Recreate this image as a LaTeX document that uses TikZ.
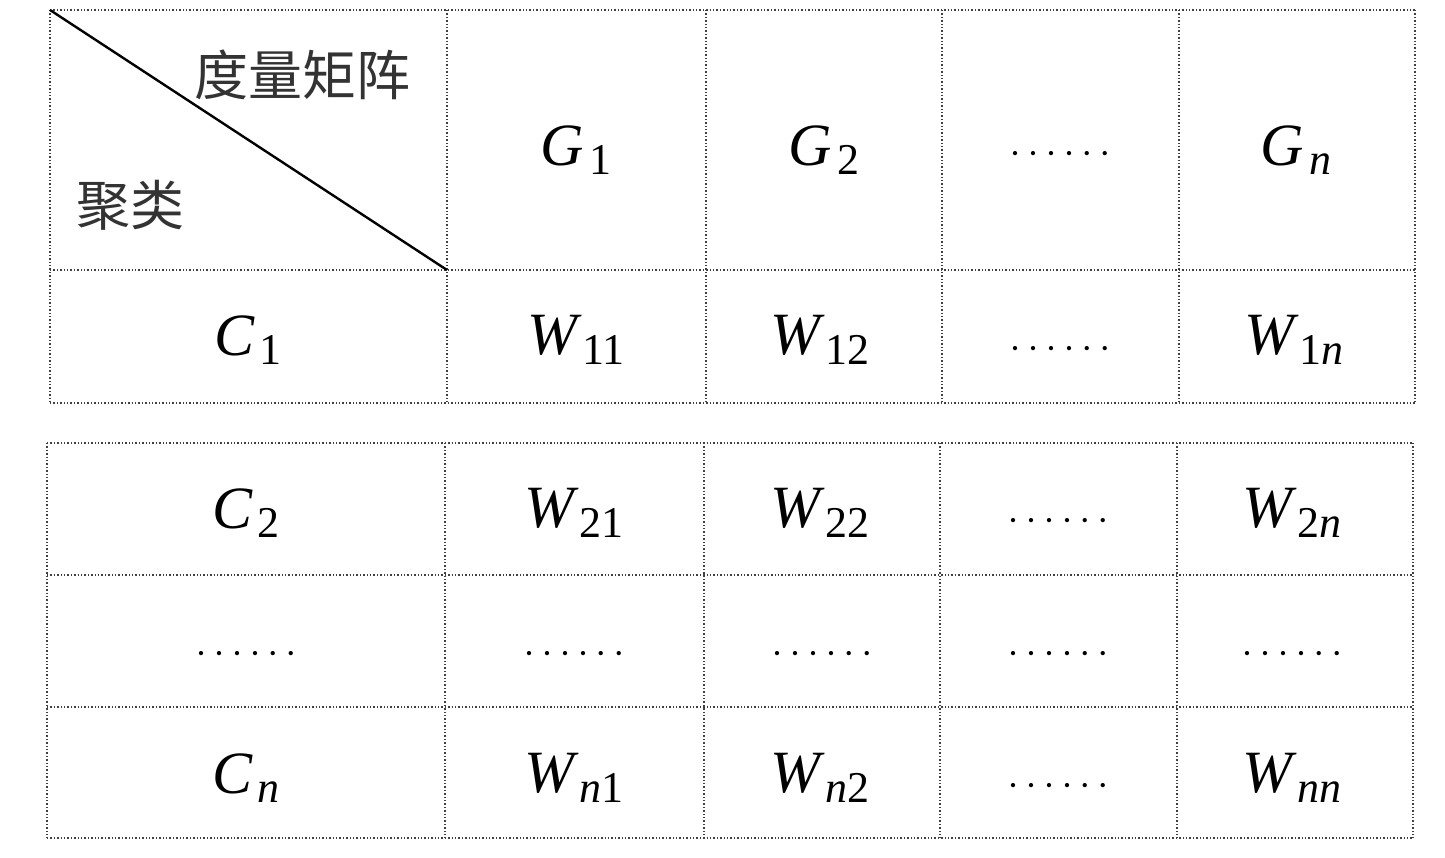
\documentclass[tikz,border=0pt]{standalone}
\usepackage{fontspec}
\setmainfont{Liberation Serif}
\newfontfamily\cjk{Noto Sans CJK SC}
\newcommand{\sixdots}{\textperiodcentered\,\textperiodcentered\,\textperiodcentered\,\textperiodcentered\,\textperiodcentered\,\textperiodcentered}
\newcommand{\sbx}[1]{\raisebox{-0.35ex}{\kern0.08em\fontsize{22}{26}\selectfont #1}}
\begin{document}
\begin{tikzpicture}[x=0.5pt,y=-0.5pt,
  grid/.style={draw=black!75,line width=0.7pt,densely dotted},
  cell/.style={font=\fontsize{30}{36}\selectfont\itshape,inner sep=0pt},
  dots/.style={font=\fontsize{18}{22}\selectfont,inner sep=0pt},
  zh/.style={font=\cjk\fontsize{27}{32}\selectfont,text=black!80,inner sep=0pt}]
\useasboundingbox (0,0) rectangle (1445,857);
% table 1
\foreach \x in {50,447,706,942,1179,1415} \draw[grid] (\x,10) -- (\x,403);
\foreach \y in {10,270,403} \draw[grid] (50,\y) -- (1415,\y);
\draw[black,line width=1.2pt] (50,10) -- (447,270);
% table 2
\foreach \x in {47,445,704,940,1177,1413} \draw[grid] (\x,443) -- (\x,838);
\foreach \y in {443,575,707,838} \draw[grid] (47,\y) -- (1413,\y);
\node[zh] (h1) at (302,75) {度量矩阵};
\node[zh] (h2) at (130,205) {聚类};
\node[cell] (g1) at (576,150) {G\sbx{\upshape 1}};
\node[cell] (g2) at (824,150) {G\sbx{\upshape 2}};
\node[dots] (gd) at (1060,158) {\sixdots};
\node[cell] (gn) at (1296,150) {G\sbx{n}};
\node[cell] (c1) at (248,340) {C\sbx{\upshape 1}};
\node[cell] (w11) at (576,340) {W\sbx{\upshape 11}};
\node[cell] (w12) at (820,340) {W\sbx{\upshape 12}};
\node[dots] (d1) at (1060,353) {\sixdots};
\node[cell] (w1n) at (1294,340) {W\sbx{\upshape 1\itshape n}};
\node[cell] (c2) at (246,513) {C\sbx{\upshape 2}};
\node[cell] (w21) at (574,513) {W\sbx{\upshape 21}};
\node[cell] (w22) at (820,513) {W\sbx{\upshape 22}};
\node[dots] (d2) at (1058,525) {\sixdots};
\node[cell] (w2n) at (1292,513) {W\sbx{\upshape 2\itshape n}};
\foreach \x/\n in {246/a,574/b,822/c,1058/d,1292/e}
  \node[dots] (r\n) at (\x,658) {\sixdots};
\node[cell] (cn) at (246,778) {C\sbx{n}};
\node[cell] (wn1) at (574,778) {W\sbx{n\upshape 1}};
\node[cell] (wn2) at (820,778) {W\sbx{n\upshape 2}};
\node[dots] (d3) at (1058,790) {\sixdots};
\node[cell] (wnn) at (1292,778) {W\sbx{nn}};
\end{tikzpicture}
\end{document}
